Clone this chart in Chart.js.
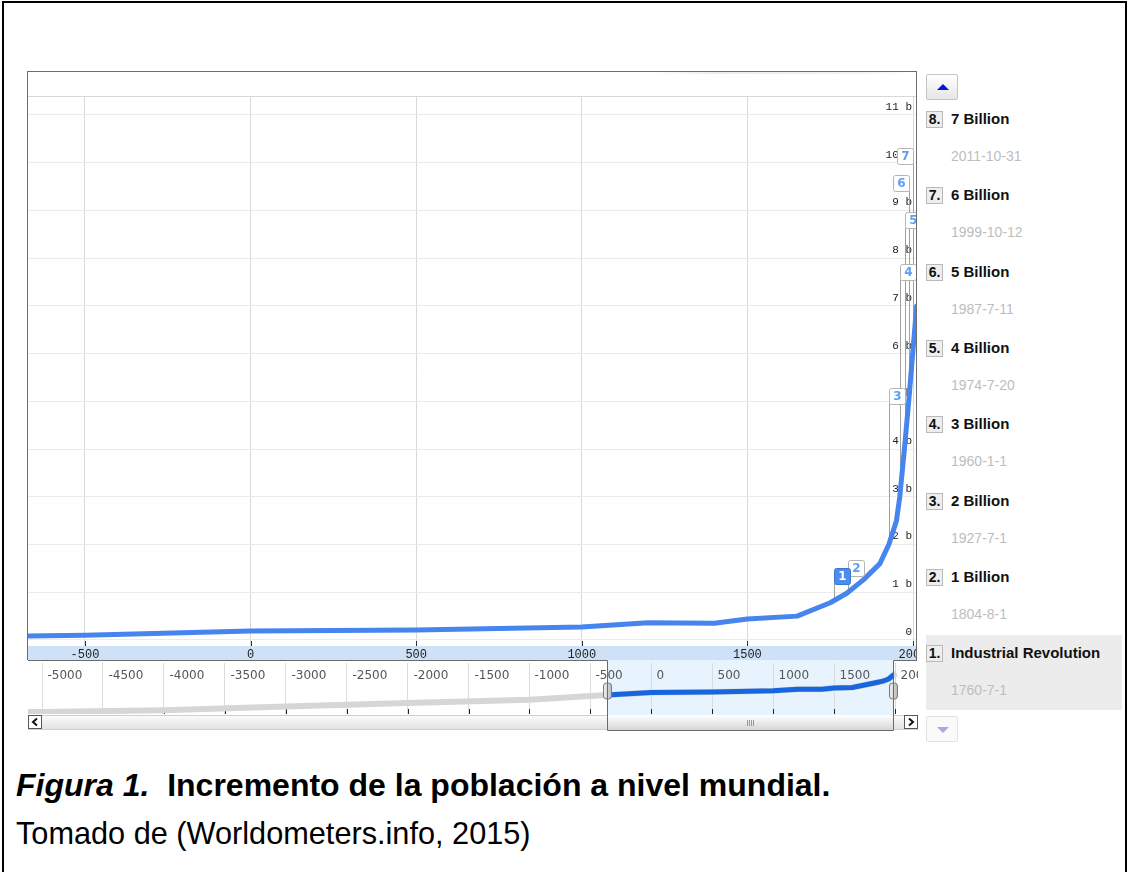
<!DOCTYPE html>
<html>
<head>
<meta charset="utf-8">
<script src="https://cdn.jsdelivr.net/npm/chart.js@4.4.1/dist/chart.umd.min.js"></script>
<style>
  body { margin: 0; width: 1128px; height: 872px; overflow: hidden; background: #fff; position: relative; font-family: "Liberation Sans", Arial, sans-serif; }
  #frame { position: absolute; left: 2px; top: 1px; width: 1125px; height: 900px; border: 2px solid #000; box-sizing: border-box; }
  #mainBox { position: absolute; left: 27px; top: 71px; width: 890px; height: 589px; border: 1px solid #6d6d6d; border-bottom: none; box-sizing: border-box; }
  #headLine { position: absolute; left: 28px; top: 96px; width: 888px; height: 1px; background: #d8d8d8; }
  #headShade { position: absolute; left: 650px; top: 72px; width: 262px; height: 2px; background: linear-gradient(to right, rgba(0,0,0,0), rgba(0,0,0,0.07) 25%, rgba(0,0,0,0.05) 80%, rgba(0,0,0,0)); }
  #mainChart { position: absolute; left: 28px; top: 97px; }
  #navChart { position: absolute; left: 28px; top: 660px; }
  .btn { position: absolute; left: 926px; width: 32px; height: 26px; box-sizing: border-box; border-radius: 2px; }
  #upBtn { top: 74px; border: 1px solid #c4c4c4; background: linear-gradient(#ffffff, #e6e6e6); }
  #downBtn { top: 716px; border: 1px solid #e2e2e2; background: #fafafa; }
  .tri { position: absolute; left: 10px; width: 0; height: 0; border-left: 6px solid transparent; border-right: 6px solid transparent; }
  #upBtn .tri { top: 9px; border-bottom: 6px solid #0a14e0; }
  #downBtn .tri { top: 10px; border-top: 6px solid #a9a9e6; }
  .hl { position: absolute; left: 926px; top: 635px; width: 196px; height: 75px; background: #ececec; }
  .num { position: absolute; left: 926px; width: 17px; height: 17px; box-sizing: border-box; border: 1px solid #b9b9b9; background: #eeeeee; font: bold 14px "Liberation Sans", Arial, sans-serif; line-height: 15px; text-align: center; color: #111; }
  .name { position: absolute; left: 951px; font: bold 15px "Liberation Sans", Arial, sans-serif; color: #111; line-height: 18px; white-space: nowrap; }
  .date { position: absolute; left: 951px; font: 14px "Liberation Sans", Arial, sans-serif; color: #bdbdbd; line-height: 18px; white-space: nowrap; }
  .cap { position: absolute; left: 16px; line-height: 40px; white-space: nowrap; color: #000; }
  #cap1 { top: 767px; font: bold 32px "Liberation Sans", Arial, sans-serif; }
  #cap2 { top: 816px; font: 30.7px "Liberation Sans", Arial, sans-serif; }
</style>
</head>
<body>
<div id="frame"></div>
<div id="mainBox"></div>
<div id="headShade"></div>
<div id="headLine"></div>
<canvas id="mainChart" width="888" height="563"></canvas>
<canvas id="navChart" width="890" height="71"></canvas>
<div class="btn" id="upBtn"><div class="tri"></div></div>
<div class="hl"></div>
<div id="panel"></div>
<div class="btn" id="downBtn"><div class="tri"></div></div>
<div class="cap" id="cap1"><i>Figura 1.</i>&nbsp;&nbsp;Incremento de la población a nivel mundial.</div>
<div class="cap" id="cap2">Tomado de (Worldometers.info, 2015)</div>

<script>
// World population (billions) by year
const years = [-6500, -5000, -4000, -3000, -2000, -1000, -500, 0, 500, 1000, 1200, 1400, 1500, 1650, 1750, 1800, 1850, 1900, 1927, 1950, 1960, 1974, 1987, 1999, 2011];
const population = [0.005, 0.005, 0.007, 0.014, 0.027, 0.05, 0.1, 0.19, 0.21, 0.27, 0.36, 0.35, 0.44, 0.5, 0.78, 0.98, 1.26, 1.6, 2.0, 2.5, 3.0, 4.0, 5.0, 6.0, 7.0];

// tick values
const mainXTicks = [-500, 0, 500, 1000, 1500, 2000];
const mainYTicks = [0, 1, 2, 3, 4, 5, 6, 7, 8, 9, 10, 11];
const navXTicks = [-5000, -4500, -4000, -3500, -3000, -2500, -2000, -1500, -1000, -500, 0, 500, 1000, 1500, 2000];

// Milestones listed in the side panel (newest first)
const eventNums = ['8.', '7.', '6.', '5.', '4.', '3.', '2.', '1.'];
const eventNames = ['7 Billion', '6 Billion', '5 Billion', '4 Billion', '3 Billion', '2 Billion', '1 Billion', 'Industrial Revolution'];
const eventDates = ['2011-10-31', '1999-10-12', '1987-7-11', '1974-7-20', '1960-1-1', '1927-7-1', '1804-8-1', '1760-7-1'];
const eventYears = [2011.83, 1999.78, 1987.53, 1974.55, 1960.0, 1927.5, 1804.58, 1760.5];

// visible window shown in the navigator
const viewStart = -360;
const viewEnd = 1985;

const points = years.map((yr, i) => ({ x: yr, y: population[i] }));

// side panel
const panel = document.getElementById('panel');
eventNames.forEach((name, i) => {
  const top = 110 + i * 76.3;
  panel.insertAdjacentHTML('beforeend',
    '<div class="num" style="top:' + (top + 1) + 'px">' + eventNums[i] + '</div>' +
    '<div class="name" style="top:' + top + 'px">' + name + '</div>' +
    '<div class="date" style="top:' + (top + 37) + 'px">' + eventDates[i] + '</div>');
});

function popAt(yr) {
  for (let i = 1; i < years.length; i++) {
    if (yr <= years[i]) {
      const t = (yr - years[i - 1]) / (years[i] - years[i - 1]);
      return population[i - 1] + t * (population[i] - population[i - 1]);
    }
  }
  return population[population.length - 1];
}

// flag box tops, px below the plot top (flag number -> offset)
const flagTops = { 1: 471, 2: 463, 3: 291, 4: 167, 5: 115, 6: 78, 7: 51 };

function flagList(chart) {
  const { chartArea: a, scales: { x, y } } = chart;
  const out = [];
  eventYears.forEach((yr, i) => {
    const n = eventYears.length - i;
    if (yr > x.max || !(n in flagTops)) return;
    const px = x.getPixelForValue(yr);
    const flip = px > a.right - 10;
    out.push({
      n: n,
      sx: Math.round(px) + 0.5,
      left: flip ? Math.round(px) - 16 : Math.round(px),
      top: a.top + flagTops[n],
      cy: y.getPixelForValue(popAt(yr))
    });
  });
  return out;
}

const mainDecor = {
  id: 'mainDecor',
  beforeDraw(chart) {
    const { ctx, chartArea: a } = chart;
    ctx.save();
    ctx.fillStyle = '#cfe1f6';
    ctx.fillRect(0, a.bottom, chart.width, chart.height - a.bottom);
    ctx.restore();
  },
  beforeDatasetsDraw(chart) {
    const { ctx, chartArea: a, scales: { x } } = chart;
    ctx.save();
    ctx.lineWidth = 1;
    ctx.strokeStyle = '#333';
    x.ticks.forEach(t => {
      const px = Math.round(x.getPixelForValue(t.value)) + 0.5;
      ctx.beginPath();
      ctx.moveTo(px, a.bottom - 5);
      ctx.lineTo(px, a.bottom);
      ctx.stroke();
    });
    ctx.strokeStyle = '#a0a0a0';
    flagList(chart).forEach(f => {
      ctx.beginPath();
      ctx.moveTo(f.sx, f.top + 16);
      ctx.lineTo(f.sx, f.cy);
      ctx.stroke();
    });
    ctx.restore();
  },
  afterDatasetsDraw(chart) {
    const { ctx } = chart;
    ctx.save();
    ctx.font = 'bold 12px "DejaVu Sans", Verdana, sans-serif';
    ctx.textAlign = 'center';
    ctx.textBaseline = 'middle';
    flagList(chart).forEach(f => {
      const sel = f.n === 1;
      ctx.beginPath();
      ctx.roundRect(f.left + 0.5, f.top + 0.5, 16, 16, 2);
      ctx.fillStyle = sel ? '#4d8ced' : '#ffffff';
      ctx.fill();
      ctx.strokeStyle = sel ? '#3a78d8' : '#b4b4b4';
      ctx.stroke();
      ctx.fillStyle = sel ? '#ffffff' : '#5f9ef2';
      ctx.fillText(String(f.n), f.left + 8.5, f.top + 9);
    });
    ctx.restore();
  }
};

new Chart(document.getElementById('mainChart'), {
  type: 'line',
  data: {
    datasets: [{
      data: points,
      borderColor: '#4684ee',
      borderWidth: 5,
      pointRadius: 0,
      tension: 0,
      borderJoinStyle: 'round',
      borderCapStyle: 'round'
    }]
  },
  options: {
    responsive: false,
    animation: false,
    devicePixelRatio: 1,
    layout: { padding: 0 },
    plugins: { legend: { display: false }, tooltip: { enabled: false } },
    scales: {
      x: {
        type: 'linear',
        position: 'bottom',
        min: -672,
        max: 2009,
        grid: { color: '#d9d9d9', drawTicks: false },
        border: { display: false },
        ticks: {
          autoSkip: false,
          maxRotation: 0,
          padding: 2,
          color: '#222',
          font: { family: '"Liberation Mono", "Courier New", monospace', size: 12 },
          callback: v => String(v)
        },
        afterBuildTicks: s => { s.ticks = mainXTicks.map(v => ({ value: v })); },
        afterFit: s => { s.height = 14; s.paddingLeft = 0; s.paddingRight = 0; }
      },
      y: {
        type: 'linear',
        position: 'right',
        min: -0.126,
        max: 11.377,
        grid: { color: '#ebebeb', drawTicks: false },
        border: { display: false },
        ticks: {
          mirror: true,
          padding: -4,
          labelOffset: -8,
          color: '#222',
          font: { family: '"Liberation Mono", "Courier New", monospace', size: 11 },
          callback: v => (v === 0 ? '0' : v + ' b')
        },
        afterBuildTicks: s => { s.ticks = mainYTicks.map(v => ({ value: v })); },
        afterFit: s => { s.width = 0; s.paddingTop = 0; s.paddingBottom = 0; }
      }
    }
  },
  plugins: [mainDecor]
});

const navDecor = {
  id: 'navDecor',
  beforeDraw(chart) {
    const { ctx, chartArea: a, scales: { x } } = chart;
    const l = Math.round(x.getPixelForValue(viewStart));
    const r = Math.round(x.getPixelForValue(viewEnd));
    const h = chart.height;
    const sy = a.bottom + 1;
    ctx.save();
    ctx.fillStyle = '#e8f4fd';
    ctx.fillRect(l, 0, r - l, sy);
    // scrollbar track
    let g = ctx.createLinearGradient(0, sy, 0, h);
    g.addColorStop(0, '#fdfdfd');
    g.addColorStop(1, '#dedede');
    ctx.fillStyle = g;
    ctx.fillRect(0, sy, chart.width, h - sy - 1);
    ctx.strokeStyle = '#d0d0d0';
    ctx.strokeRect(0.5, sy + 0.5, chart.width - 1, h - sy - 2);
    // thumb
    g = ctx.createLinearGradient(0, sy, 0, h);
    g.addColorStop(0, '#ffffff');
    g.addColorStop(1, '#d4d4d4');
    ctx.fillStyle = g;
    ctx.fillRect(l, sy, r - l, h - sy - 1);
    ctx.strokeStyle = '#9a9a9a';
    const gx = Math.round((l + r) / 2);
    for (let k = -3; k <= 3; k += 2) {
      ctx.beginPath();
      ctx.moveTo(gx + k + 0.5, sy + 5);
      ctx.lineTo(gx + k + 0.5, sy + 11);
      ctx.stroke();
    }
    // arrow buttons
    [[0, -1], [chart.width - 14, 1]].forEach(([bx, dir]) => {
      ctx.fillStyle = '#ffffff';
      ctx.fillRect(bx, sy, 14, 14);
      ctx.strokeStyle = '#555';
      ctx.strokeRect(bx + 0.5, sy + 0.5, 13, 13);
      ctx.beginPath();
      const cx = bx + 7;
      ctx.moveTo(cx - dir * 2, sy + 3.5);
      ctx.lineTo(cx + dir * 2, sy + 7);
      ctx.lineTo(cx - dir * 2, sy + 10.5);
      ctx.lineWidth = 2;
      ctx.strokeStyle = '#111';
      ctx.stroke();
      ctx.lineWidth = 1;
    });
    ctx.restore();
  },
  beforeDatasetsDraw(chart) {
    const { ctx, chartArea: a, scales: { x } } = chart;
    ctx.save();
    ctx.strokeStyle = '#222';
    ctx.lineWidth = 1;
    ctx.fillStyle = '#555';
    ctx.font = '12px "DejaVu Sans", Verdana, sans-serif';
    ctx.textBaseline = 'middle';
    x.ticks.forEach(t => {
      const px = Math.round(x.getPixelForValue(t.value)) + 0.5;
      ctx.beginPath();
      ctx.moveTo(px, a.bottom - 5);
      ctx.lineTo(px, a.bottom);
      ctx.stroke();
      ctx.fillText(String(t.value), px + 5, a.top + 13);
    });
    ctx.restore();
  },
  // the blue copy (dataset 0) shows only inside the visible window
  beforeDatasetDraw(chart, args) {
    if (args.index !== 0) return;
    const { ctx, scales: { x } } = chart;
    const l = x.getPixelForValue(viewStart), r = x.getPixelForValue(viewEnd);
    ctx.save();
    ctx.beginPath();
    ctx.rect(l, 0, r - l, chart.height);
    ctx.clip();
  },
  afterDatasetDraw(chart, args) {
    if (args.index === 0) chart.ctx.restore();
  },
  afterDraw(chart) {
    const { ctx, scales: { x } } = chart;
    const l = Math.round(x.getPixelForValue(viewStart)) + 0.5;
    const r = Math.round(x.getPixelForValue(viewEnd)) + 0.5;
    const h = chart.height;
    ctx.save();
    // handles
    [l, r].forEach(hx => {
      const g = ctx.createLinearGradient(hx - 4, 0, hx + 4, 0);
      g.addColorStop(0, '#f2f2f2');
      g.addColorStop(1, '#b8b8b8');
      ctx.beginPath();
      ctx.roundRect(hx - 4, 23, 8, 16, 3);
      ctx.fillStyle = g;
      ctx.fill();
      ctx.strokeStyle = '#7a7a7a';
      ctx.stroke();
    });
    // border of the plot continuing around the visible window
    ctx.strokeStyle = '#6b6b6b';
    ctx.lineWidth = 1;
    ctx.beginPath();
    ctx.moveTo(0, 0.5);
    ctx.lineTo(l, 0.5);
    ctx.lineTo(l, h - 0.5);
    ctx.lineTo(r, h - 0.5);
    ctx.lineTo(r, 0.5);
    ctx.lineTo(889, 0.5);
    ctx.stroke();
    ctx.restore();
  }
};

new Chart(document.getElementById('navChart'), {
  type: 'line',
  data: {
    datasets: [
      { data: points, borderColor: '#1766e0', borderWidth: 5, pointRadius: 0, tension: 0 },
      { data: points, borderColor: '#d6d6d6', borderWidth: 6, pointRadius: 0, tension: 0 }
    ]
  },
  options: {
    responsive: false,
    animation: false,
    devicePixelRatio: 1,
    layout: { padding: { left: 0, right: 13, top: 3, bottom: 17 } },
    plugins: { legend: { display: false }, tooltip: { enabled: false } },
    scales: {
      x: {
        type: 'linear',
        min: -5115,
        max: 2082,
        grid: { color: '#dcdcdc', drawTicks: false },
        border: { display: false },
        ticks: { display: false },
        afterBuildTicks: s => { s.ticks = navXTicks.map(v => ({ value: v })); },
        afterFit: s => { s.height = 0; s.paddingLeft = 0; s.paddingRight = 0; }
      },
      y: {
        type: 'logarithmic',
        display: false,
        min: 0.00344,
        max: 48.1
      }
    }
  },
  plugins: [navDecor]
});
</script>
</body>
</html>
